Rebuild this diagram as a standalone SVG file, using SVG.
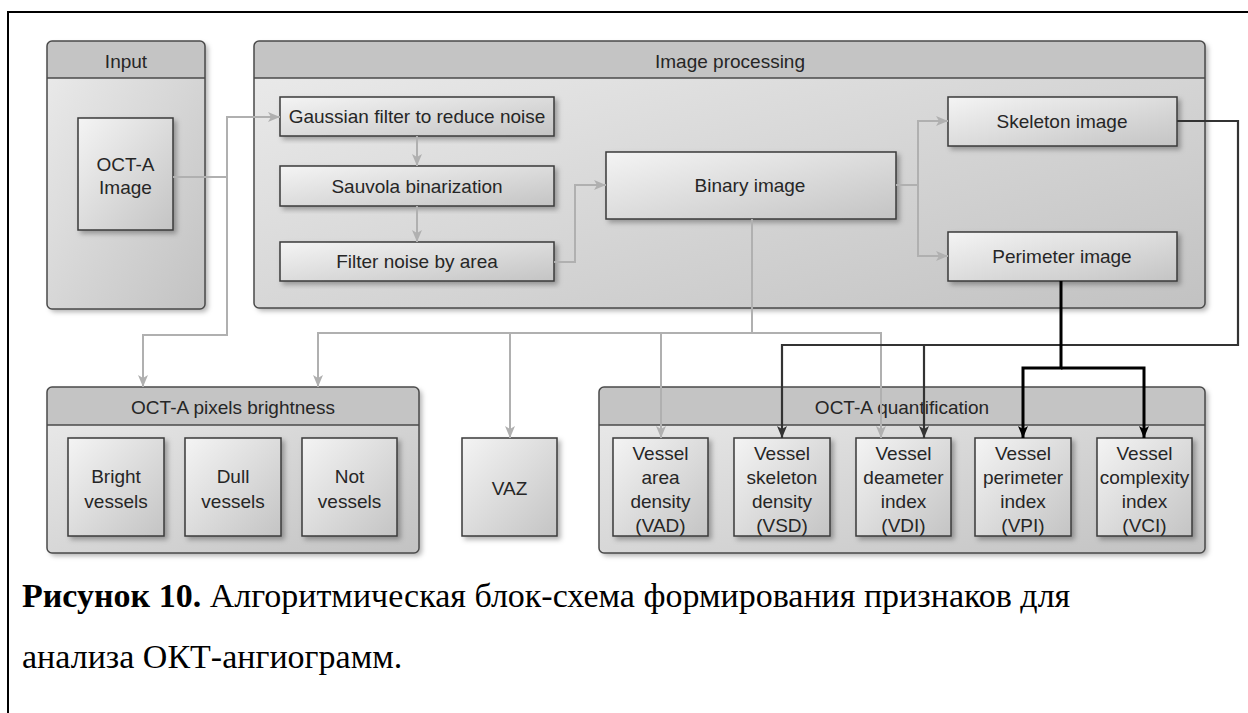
<svg xmlns="http://www.w3.org/2000/svg" width="1248" height="713" viewBox="0 0 1248 713">
<defs>
<linearGradient id="gBox" x1="0" y1="0" x2="1" y2="1">
<stop offset="0" stop-color="#f4f4f4"/>
<stop offset="1" stop-color="#c4c4c4"/>
</linearGradient>
<linearGradient id="gBody" x1="0" y1="0" x2="1" y2="1">
<stop offset="0" stop-color="#ececec"/>
<stop offset="1" stop-color="#c2c2c2"/>
</linearGradient>
<filter id="sh" x="-10%" y="-10%" width="130%" height="130%">
<feDropShadow dx="3" dy="3" stdDeviation="2.5" flood-color="#000" flood-opacity="0.3"/>
</filter>
<marker id="aG" viewBox="0 0 12 10" refX="12" refY="5" markerWidth="12" markerHeight="10" markerUnits="userSpaceOnUse" orient="auto">
<path d="M0,0 L12,5 L0,10 L3,5 z" fill="#b0b0b0"/>
</marker>
<marker id="aD" viewBox="0 0 12 10" refX="12" refY="5" markerWidth="12" markerHeight="10" markerUnits="userSpaceOnUse" orient="auto">
<path d="M0,0 L12,5 L0,10 L3,5 z" fill="#333"/>
</marker>
<marker id="aB" viewBox="0 0 12 10" refX="12" refY="5" markerWidth="12" markerHeight="10" markerUnits="userSpaceOnUse" orient="auto">
<path d="M0,0 L12,5 L0,10 L3,5 z" fill="#000"/>
</marker>
</defs>
<style>
.box{fill:url(#gBox);stroke:#3a3a3a;stroke-width:1.5;filter:url(#sh)}
.body{fill:url(#gBody);filter:url(#sh)}
.hdr{fill:#c4c4c4}
.frame{fill:none;stroke:#4a4a4a;stroke-width:1.5}
.sep{stroke:#4a4a4a;stroke-width:1.5}
text{font-family:"Liberation Sans",Arial,sans-serif;font-size:19px;fill:#262626;text-anchor:middle}
.cap{font-family:"Liberation Serif","Times New Roman",serif;font-size:34px;fill:#000;text-anchor:start}
.g{fill:none;stroke:#b0b0b0;stroke-width:2}
.d{fill:none;stroke:#333;stroke-width:2.2}
.b{fill:none;stroke:#000;stroke-width:3}
</style>
<rect width="1248" height="713" fill="#fff"/>
<path d="M8,713 V12 H1248" fill="none" stroke="#000" stroke-width="2"/>

<g id="input">
<rect class="body" x="47" y="41" width="158" height="268" rx="5"/>
<path class="hdr" d="M47,78 V46 a5,5 0 0 1 5,-5 H200 a5,5 0 0 1 5,5 V78 z"/>
<line class="sep" x1="47" y1="78" x2="205" y2="78"/>
<rect class="frame" x="47" y="41" width="158" height="268" rx="5"/>
<text x="126" y="68">Input</text>
</g>
<g id="octa-image">
<rect class="box" x="78" y="118" width="95" height="112"/>
<text x="125.5" y="171">OCT-A</text>
<text x="125.5" y="194">Image</text>
</g>

<g id="image-processing">
<rect class="body" x="254" y="41" width="951" height="267" rx="5"/>
<path class="hdr" d="M254,78 V46 a5,5 0 0 1 5,-5 H1200 a5,5 0 0 1 5,5 V78 z"/>
<line class="sep" x1="254" y1="78" x2="1205" y2="78"/>
<rect class="frame" x="254" y="41" width="951" height="267" rx="5"/>
<text x="730" y="68">Image processing</text>
</g>
<g id="gaussian">
<rect class="box" x="280" y="97" width="274" height="39"/>
<text x="417" y="123">Gaussian filter to reduce noise</text>
</g>
<g id="sauvola">
<rect class="box" x="280" y="166" width="274" height="40"/>
<text x="417" y="193">Sauvola binarization</text>
</g>
<g id="filter-noise">
<rect class="box" x="280" y="242" width="274" height="39"/>
<text x="417" y="268">Filter noise by area</text>
</g>
<g id="binary">
<rect class="box" x="606" y="152" width="290" height="67"/>
<text x="750" y="192">Binary image</text>
</g>
<g id="skeleton">
<rect class="box" x="948" y="97" width="229" height="49"/>
<text x="1062" y="128">Skeleton image</text>
</g>
<g id="perimeter">
<rect class="box" x="948" y="232" width="229" height="49"/>
<text x="1062" y="263">Perimeter image</text>
</g>

<g id="pixels-brightness">
<rect class="body" x="47" y="387" width="372" height="166" rx="5"/>
<path class="hdr" d="M47,425 V392 a5,5 0 0 1 5,-5 H414 a5,5 0 0 1 5,5 V425 z"/>
<line class="sep" x1="47" y1="425" x2="419" y2="425"/>
<rect class="frame" x="47" y="387" width="372" height="166" rx="5"/>
<text x="233" y="414">OCT-A pixels brightness</text>
</g>
<g id="bright">
<rect class="box" x="68" y="438" width="96" height="98"/>
<text x="116" y="483">Bright</text>
<text x="116" y="508">vessels</text>
</g>
<g id="dull">
<rect class="box" x="185" y="438" width="96" height="98"/>
<text x="233" y="483">Dull</text>
<text x="233" y="508">vessels</text>
</g>
<g id="not">
<rect class="box" x="302" y="438" width="95" height="98"/>
<text x="349.5" y="483">Not</text>
<text x="349.5" y="508">vessels</text>
</g>

<g id="vaz">
<rect class="box" x="462" y="438" width="95" height="98"/>
<text x="509.5" y="495">VAZ</text>
</g>

<g id="quantification">
<rect class="body" x="599" y="387" width="606" height="166" rx="5"/>
<path class="hdr" d="M599,425 V392 a5,5 0 0 1 5,-5 H1200 a5,5 0 0 1 5,5 V425 z"/>
<line class="sep" x1="599" y1="425" x2="1205" y2="425"/>
<rect class="frame" x="599" y="387" width="606" height="166" rx="5"/>
<text x="902" y="414">OCT-A quantification</text>
</g>
<g id="vad">
<rect class="box" x="613" y="438" width="95" height="98"/>
<text x="660.5" y="460">Vessel</text>
<text x="660.5" y="484">area</text>
<text x="660.5" y="508">density</text>
<text x="660.5" y="532">(VAD)</text>
</g>
<g id="vsd">
<rect class="box" x="734" y="438" width="96" height="98"/>
<text x="782" y="460">Vessel</text>
<text x="782" y="484">skeleton</text>
<text x="782" y="508">density</text>
<text x="782" y="532">(VSD)</text>
</g>
<g id="vdi">
<rect class="box" x="856" y="438" width="95" height="98"/>
<text x="903.5" y="460">Vessel</text>
<text x="903.5" y="484">deameter</text>
<text x="903.5" y="508">index</text>
<text x="903.5" y="532">(VDI)</text>
</g>
<g id="vpi">
<rect class="box" x="975" y="438" width="96" height="98"/>
<text x="1023" y="460">Vessel</text>
<text x="1023" y="484">perimeter</text>
<text x="1023" y="508">index</text>
<text x="1023" y="532">(VPI)</text>
</g>
<g id="vci">
<rect class="box" x="1097" y="438" width="95" height="98"/>
<text x="1144.5" y="460">Vessel</text>
<text x="1144.5" y="484">complexity</text>
<text x="1144.5" y="508">index</text>
<text x="1144.5" y="532">(VCI)</text>
</g>

<g id="connectors">
<path class="g" d="M173,177 H227 V117 H280" marker-end="url(#aG)"/>
<path class="g" d="M227,177 V335 H143 V387" marker-end="url(#aG)"/>
<path class="g" d="M417,136 V166" marker-end="url(#aG)"/>
<path class="g" d="M417,206 V242" marker-end="url(#aG)"/>
<path class="g" d="M554,262 H575 V185 H606" marker-end="url(#aG)"/>
<path class="g" d="M896,185 H918 V121 H948" marker-end="url(#aG)"/>
<path class="g" d="M918,185 V256 H948" marker-end="url(#aG)"/>
<path class="g" d="M752,219 V333 H318 V387" marker-end="url(#aG)"/>
<path class="g" d="M510,333 V438" marker-end="url(#aG)"/>
<path class="g" d="M661,333 V438" marker-end="url(#aG)"/>
<path class="g" d="M752,333 H881 V438" marker-end="url(#aG)"/>
<path class="d" d="M1177,121 H1238 V345 H782 V438" marker-end="url(#aD)"/>
<path class="d" d="M924,345 V438" marker-end="url(#aD)"/>
<path class="b" d="M1061,281 V368 H1023 V438" marker-end="url(#aB)"/>
<path class="b" d="M1061,368 H1144 V438" marker-end="url(#aB)"/>
</g>

<g id="caption">
<text class="cap" x="22" y="607"><tspan font-weight="bold">Рисунок 10.</tspan> Алгоритмическая блок-схема формирования признаков для</text>
<text class="cap" x="22" y="668">анализа ОКТ-ангиограмм.</text>
</g>
</svg>
